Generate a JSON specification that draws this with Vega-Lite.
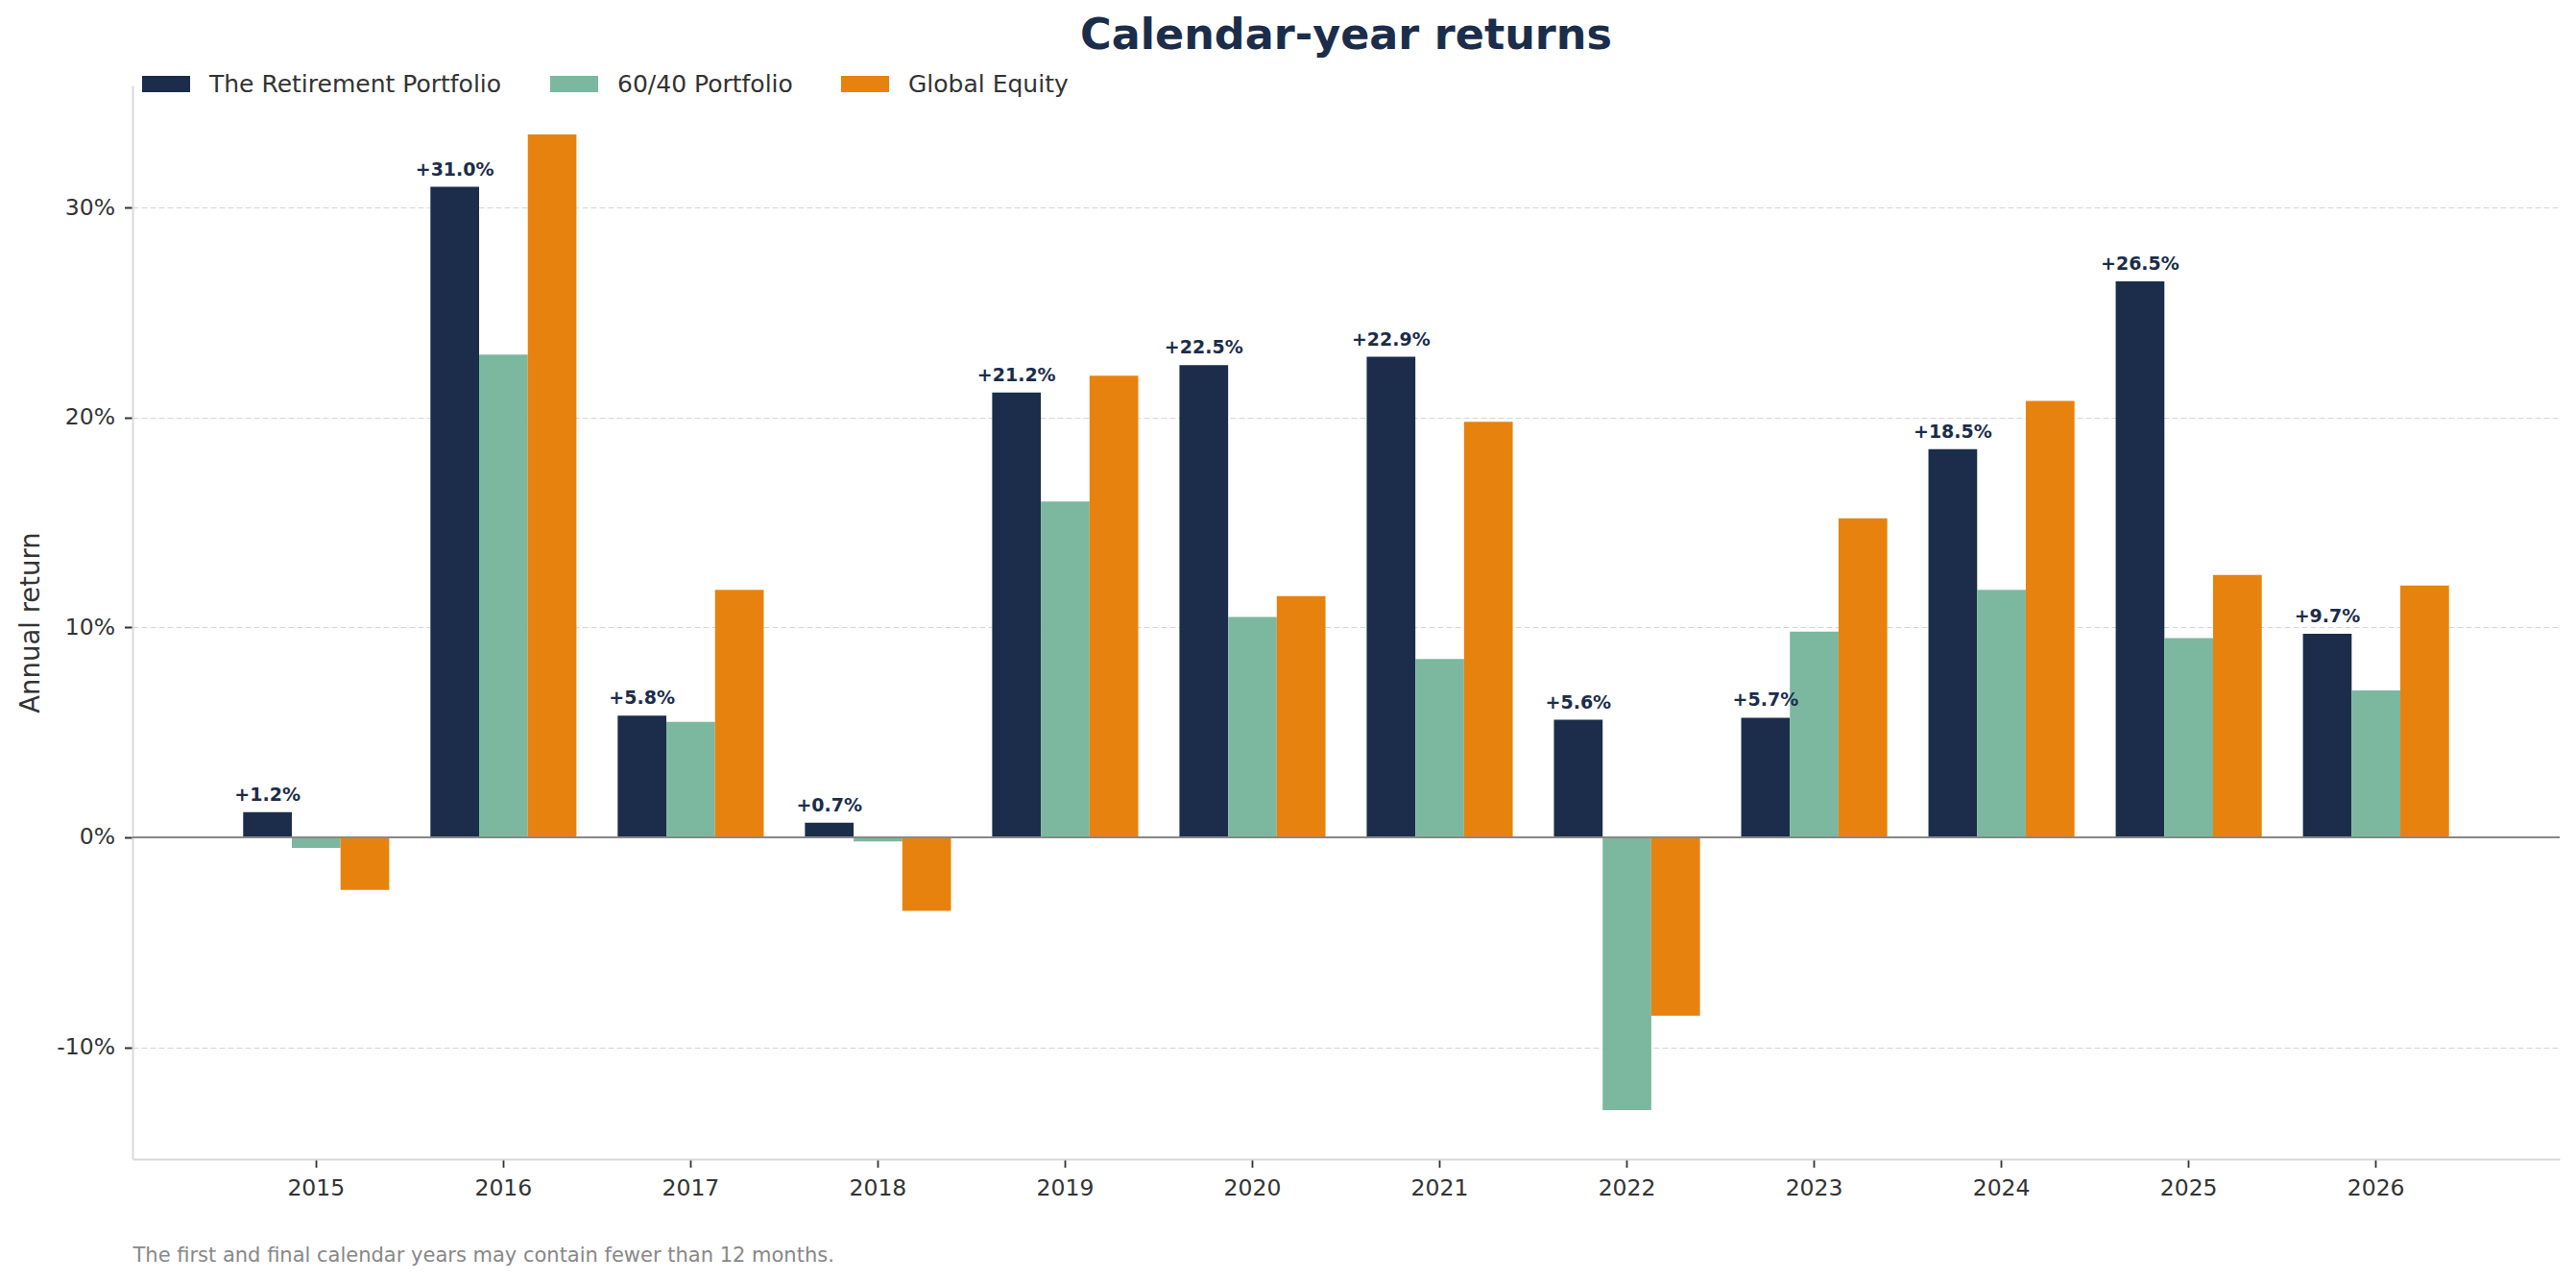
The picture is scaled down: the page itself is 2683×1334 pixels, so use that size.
{
  "$schema": "https://vega.github.io/schema/vega-lite/v6.json",
  "description": "Calendar-year returns, grouped bars per year",
  "width": 2528,
  "height": 1118,
  "autosize": {"type": "none"},
  "padding": {"left": 138, "top": 89, "right": 17, "bottom": 127},
  "title": {
    "text": "Calendar-year returns",
    "fontSize": 44.5,
    "fontWeight": "bold",
    "color": "#1b2d4a",
    "anchor": "middle",
    "frame": "group",
    "baseline": "alphabetic",
    "offset": 9.5,
    "dy": 42
  },
  "data": {
    "values": [
      {"year": "2015", "series": "The Retirement Portfolio", "value": 1.2},
      {"year": "2015", "series": "60/40 Portfolio", "value": -0.5},
      {"year": "2015", "series": "Global Equity", "value": -2.5},
      {"year": "2016", "series": "The Retirement Portfolio", "value": 31.0},
      {"year": "2016", "series": "60/40 Portfolio", "value": 23.0},
      {"year": "2016", "series": "Global Equity", "value": 33.5},
      {"year": "2017", "series": "The Retirement Portfolio", "value": 5.8},
      {"year": "2017", "series": "60/40 Portfolio", "value": 5.5},
      {"year": "2017", "series": "Global Equity", "value": 11.8},
      {"year": "2018", "series": "The Retirement Portfolio", "value": 0.7},
      {"year": "2018", "series": "60/40 Portfolio", "value": -0.2},
      {"year": "2018", "series": "Global Equity", "value": -3.5},
      {"year": "2019", "series": "The Retirement Portfolio", "value": 21.2},
      {"year": "2019", "series": "60/40 Portfolio", "value": 16.0},
      {"year": "2019", "series": "Global Equity", "value": 22.0},
      {"year": "2020", "series": "The Retirement Portfolio", "value": 22.5},
      {"year": "2020", "series": "60/40 Portfolio", "value": 10.5},
      {"year": "2020", "series": "Global Equity", "value": 11.5},
      {"year": "2021", "series": "The Retirement Portfolio", "value": 22.9},
      {"year": "2021", "series": "60/40 Portfolio", "value": 8.5},
      {"year": "2021", "series": "Global Equity", "value": 19.8},
      {"year": "2022", "series": "The Retirement Portfolio", "value": 5.6},
      {"year": "2022", "series": "60/40 Portfolio", "value": -13.0},
      {"year": "2022", "series": "Global Equity", "value": -8.5},
      {"year": "2023", "series": "The Retirement Portfolio", "value": 5.7},
      {"year": "2023", "series": "60/40 Portfolio", "value": 9.8},
      {"year": "2023", "series": "Global Equity", "value": 15.2},
      {"year": "2024", "series": "The Retirement Portfolio", "value": 18.5},
      {"year": "2024", "series": "60/40 Portfolio", "value": 11.8},
      {"year": "2024", "series": "Global Equity", "value": 20.8},
      {"year": "2025", "series": "The Retirement Portfolio", "value": 26.5},
      {"year": "2025", "series": "60/40 Portfolio", "value": 9.5},
      {"year": "2025", "series": "Global Equity", "value": 12.5},
      {"year": "2026", "series": "The Retirement Portfolio", "value": 9.7},
      {"year": "2026", "series": "60/40 Portfolio", "value": 7.0},
      {"year": "2026", "series": "Global Equity", "value": 12.0}
    ]
  },
  "layer": [
    {
      "mark": {"type": "bar"},
      "encoding": {
        "x": {
          "field": "year",
          "type": "ordinal",
          "scale": {"paddingInner": 0.22, "paddingOuter": 0.591},
          "axis": {
            "title": "The first and final calendar years may contain fewer than 12 months.",
            "titleFontSize": 21,
            "titleFontWeight": "normal",
            "titleColor": "#888888",
            "titleAlign": "left",
            "titleAnchor": "start",
            "titleX": 0,
            "titleY": 106,
            "titleBaseline": "alphabetic",
            "labelAngle": 0,
            "labelFontSize": 23.5,
            "labelColor": "#333333",
            "labelPadding": 10,
            "tickSize": 8.5,
            "tickColor": "#333333",
            "tickWidth": 1.8,
            "domainColor": "#d9d9d9",
            "domainWidth": 2,
            "grid": false
          }
        },
        "xOffset": {
          "field": "series",
          "type": "nominal",
          "scale": {
            "domain": ["The Retirement Portfolio", "60/40 Portfolio", "Global Equity"],
            "paddingInner": 0,
            "paddingOuter": 0
          }
        },
        "y": {
          "field": "value",
          "type": "quantitative",
          "scale": {"domain": [-15.33, 35.83], "nice": false, "zero": false},
          "axis": {
            "title": "Annual return",
            "values": [-10, 0, 10, 20, 30],
            "labelExpr": "datum.value + '%'",
            "labelFontSize": 23.5,
            "labelColor": "#333333",
            "labelPadding": 10,
            "tickSize": 8.5,
            "tickColor": "#333333",
            "tickWidth": 2,
            "domainColor": "#d9d9d9",
            "domainWidth": 2,
            "grid": true,
            "gridColor": "#d6d6d6",
            "gridDash": [6, 3],
            "gridWidth": 1.2,
            "titleFontSize": 27.5,
            "titleFontWeight": "normal",
            "titleColor": "#333333",
            "titleX": -98,
            "titleY": 559,
            "titleAlign": "center",
            "titleBaseline": "alphabetic"
          }
        },
        "color": {
          "field": "series",
          "type": "nominal",
          "scale": {
            "domain": ["The Retirement Portfolio", "60/40 Portfolio", "Global Equity"],
            "range": ["#1b2d4a", "#7bb89f", "#e8820e"]
          },
          "legend": {
            "title": null,
            "orient": "none",
            "direction": "horizontal",
            "columns": 3,
            "legendX": 10,
            "legendY": -26.5,
            "padding": 0,
            "offset": 0,
            "symbolType": "M-1,-0.34H1V0.34H-1Z",
            "symbolSize": 2500,
            "symbolStrokeWidth": 0,
            "symbolOpacity": 1,
            "labelFontSize": 25,
            "labelColor": "#333333",
            "labelOffset": 20,
            "labelLimit": 0,
            "columnPadding": 50
          }
        }
      }
    },
    {
      "data": {"values": [{}]},
      "mark": {"type": "rule", "color": "#888888", "strokeWidth": 2},
      "encoding": {"y": {"datum": 0}}
    },
    {
      "transform": [
        {"filter": "datum.series === 'The Retirement Portfolio'"},
        {"calculate": "'+' + format(datum.value, '.1f') + '%'", "as": "label"}
      ],
      "mark": {
        "type": "text",
        "align": "center",
        "baseline": "alphabetic",
        "dy": -12,
        "fontSize": 19,
        "fontWeight": "bold",
        "color": "#1b2d4a"
      },
      "encoding": {
        "x": {"field": "year", "type": "ordinal"},
        "xOffset": {
          "field": "series",
          "type": "nominal",
          "scale": {"domain": ["The Retirement Portfolio", "60/40 Portfolio", "Global Equity"]}
        },
        "y": {"field": "value", "type": "quantitative"},
        "text": {"field": "label"}
      }
    }
  ],
  "config": {
    "view": {"stroke": null},
    "font": "DejaVu Sans"
  }
}
